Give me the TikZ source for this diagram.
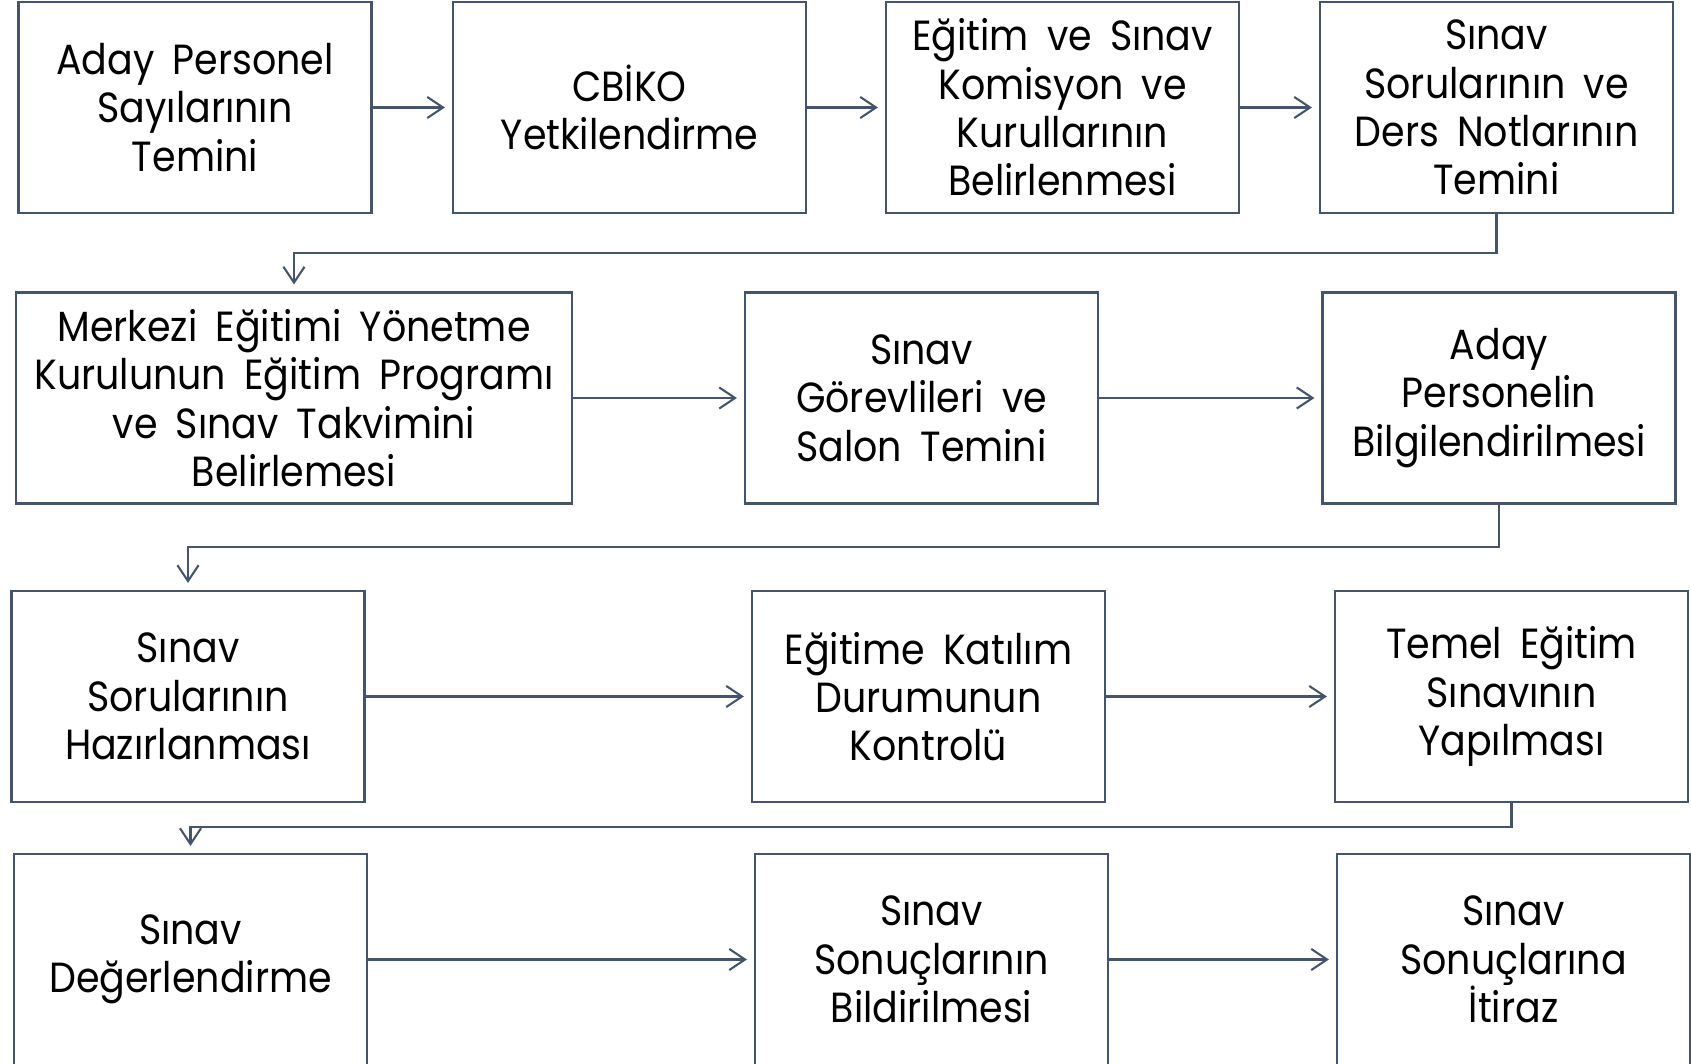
\documentclass[tikz,border=0pt]{standalone}
\usepackage{fontspec}
\setmainfont{Poppins}[FakeStretch=0.9,WordSpace=1.8]
\usetikzlibrary{arrows.meta}
\usetikzlibrary{shapes,positioning}
\definecolor{boxline}{HTML}{44546A}
\tikzset{>={Straight Barb[length=9pt,width=12pt,line width=1.2pt]}}
\tikzset{stepbox/.style={draw=boxline,line width=1.2pt,fill=white,align=center,
		minimum width=7.06cm,minimum height=4.22cm,inner sep=0pt,
		font=\fontsize{24pt}{27.5pt}\selectfont}}
\tikzset{flow/.style={->,draw=boxline,line width=1.2pt,shorten >=4pt}}

\begin{document}
\begin{tikzpicture}[x=0.02cm,y=-0.02cm]
		\clip (0,0) rectangle (1691,1063);
		\coordinate (bend1) at (0,253);
		\coordinate (bend2) at (0,547);
		\coordinate (bend3) at (0,827);
		% first row
		\node[stepbox] (A) at (195,107.5) {Aday Personel\\Sayılarının\\Temini};
		\node[stepbox] (B) at (629.5,107.5) {CBİKO\\Yetkilendirme};
		\node[stepbox] (C) at (1062.5,107.5) {Eğitim ve Sınav\\Komisyon ve\\Kurullarının\\Belirlenmesi};
		\node[stepbox] (D) at (1496.5,107.5) {Sınav\\Sorularının ve\\Ders Notlarının\\Temini};
		% second row
		\node[stepbox,minimum width=11.12cm] (E) at (294,398) {Merkezi Eğitimi Yönetme\\Kurulunun Eğitim Programı\\ve Sınav Takvimini\\Belirlemesi};
		\node[stepbox] (F) at (921.5,398) {Sınav\\Görevlileri ve\\Salon Temini};
		\node[stepbox] (G) at (1499,398) {Aday\\Personelin\\Bilgilendirilmesi};
		% third row
		\node[stepbox] (H) at (188,696.5) {Sınav\\Sorularının\\Hazırlanması};
		\node[stepbox] (I) at (928.5,696.5) {Eğitime Katılım\\Durumunun\\Kontrolü};
		\node[stepbox] (J) at (1511.5,696.5) {Temel Eğitim\\Sınavının\\Yapılması};
		% fourth row
		\node[stepbox] (K) at (190.5,959.5) {Sınav\\Değerlendirme};
		\node[stepbox] (L) at (931.5,959.5) {Sınav\\Sonuçlarının\\Bildirilmesi};
		\node[stepbox] (M) at (1513.5,959.5) {Sınav\\Sonuçlarına\\İtiraz};
		
		\draw[flow](A.east)--(B.west);
		\draw[flow](B.east)--(C.west);
		\draw[flow](C.east)--(D.west);
		\draw[flow](D.south)--(D.south |- bend1)-|(E.north);
		\draw[flow](E.east)--(F.west);
		\draw[flow](F.east)--(G.west);
		\draw[flow](G.south)--(G.south |- bend2)-|(H.north);
		\draw[flow](H.east)--(I.west);
		\draw[flow](I.east)--(J.west);
		\draw[flow](J.south)--(J.south |- bend3)-|(K.north);
		\draw[flow](K.east)--(L.west);
		\draw[flow](L.east)--(M.west);
		
		\end{tikzpicture}
\end{document}
